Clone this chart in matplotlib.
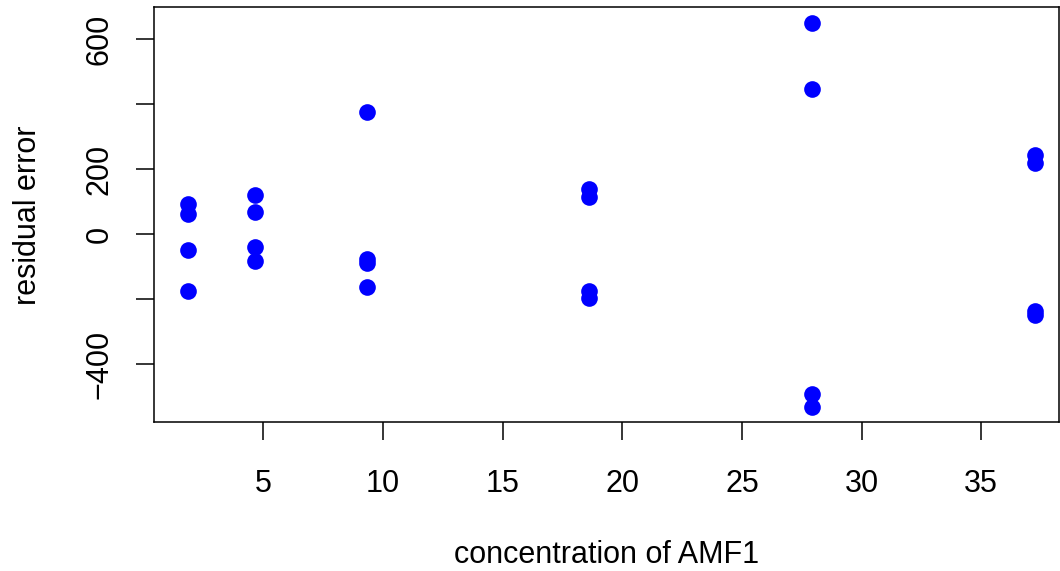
import matplotlib
matplotlib.use("Agg")
import matplotlib.pyplot as plt

plt.rcParams["font.family"] = ["Liberation Sans", "DejaVu Sans"]

# concentration levels and residuals
concentration = [1.87] * 4 + [4.67] * 4 + [9.32] * 4 + [18.63] * 4 + [27.93] * 4 + [37.24] * 4
residual = [93, 61, -48, -174,
             120, 70, -38, -81,
             376, -77, -89, -163,
             140, 116, -174, -197,
             650, 447, -491, -530,
             245, 220, -235, -248]

x_ticks = [5, 10, 15, 20, 25, 30, 35]
y_ticks = [-400, -200, 0, 200, 400, 600]
y_labels = ["\u2212400", "", "0", "200", "", "600"]

fig = plt.figure(figsize=(10.6, 5.71), dpi=100)
ax = fig.add_axes([0.1456, 0.2604, 0.853, 0.7268])

ax.plot(concentration, residual, "o", color="#0000ff", markersize=12, markeredgewidth=0)

ax.set_xlim(0.45, 38.23)
ax.set_ylim(-578.5, 698.5)
ax.set_xticks(x_ticks)
ax.set_xticklabels([str(t) for t in x_ticks])
ax.set_yticks(y_ticks)
ax.set_yticklabels(y_labels, rotation=90, va="center")

ax.tick_params(axis="both", direction="out", length=13, width=1.1, labelsize=22, color="black")
ax.tick_params(axis="x", pad=20.5)
ax.tick_params(axis="y", pad=15.5)
for s in ax.spines.values():
    s.set_linewidth(1.1)

ax.set_xlabel("concentration of AMF1", fontsize=22, labelpad=29.5)
ax.set_ylabel("residual error", fontsize=22, labelpad=30)

fig.savefig("out.png", dpi=100)
